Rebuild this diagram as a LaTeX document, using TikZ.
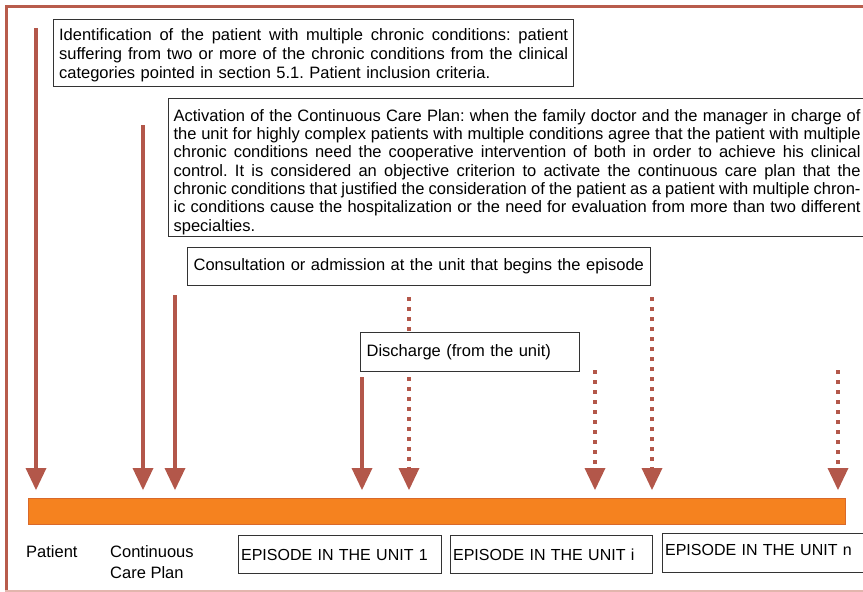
\documentclass[tikz,border=0pt]{standalone}
\usepackage{fontspec}
\setmainfont{Liberation Sans}
\usetikzlibrary{arrows.meta}
\frenchspacing

\definecolor{arrowred}{HTML}{B3574A}
\definecolor{framered}{HTML}{B85C4C}
\definecolor{framepink}{HTML}{E2B5AD}
\definecolor{barorange}{HTML}{F5821F}
\definecolor{baredge}{HTML}{D9692A}
\definecolor{boxgray}{HTML}{333333}

% one justified line of a fixed width
\newcommand\jline[2]{\leavevmode\hbox to #1{\spaceskip=0.278em plus 1em minus 0.12em\relax #2}}

\begin{document}
\begin{tikzpicture}[x=1pt, y=-1pt,
  font=\fontsize{16.5}{18.8}\selectfont,
  textbox/.style={draw=boxgray, line width=1.2pt, fill=white, anchor=north west,
                  inner ysep=0pt, align=left},
  solidarrow/.style={draw=arrowred, line width=4pt,
                     -{Triangle[width=21pt, length=22pt, line width=0pt]}},
  dotarrow/.style={solidarrow, dash pattern=on 4pt off 6pt},
  plainlabel/.style={inner sep=0pt, align=left}]

\useasboundingbox (0,0) rectangle (863,592);

% outer frame
\draw[framered, line width=3pt] (875,6.5) -- (6.5,6.5) -- (6.5,590);
\draw[framepink, line width=2pt] (5,590.8) -- (875,590.8);

% time line bar
\node[draw=baredge, line width=0.8pt, fill=barorange, minimum width=817pt,
      minimum height=26pt, inner sep=0pt] (bar) at (436.5,511.5) {};

% start and end points of the event arrows
\coordinate (a0) at (36,28);   \coordinate (a1) at (36,490);
\coordinate (b0) at (143,125); \coordinate (b1) at (143,490);
\coordinate (c0) at (175,295); \coordinate (c1) at (175,490);
\coordinate (d0) at (362,377); \coordinate (d1) at (362,490);
\coordinate (e0) at (409,297); \coordinate (e1) at (409,490);
\coordinate (f0) at (595,370); \coordinate (f1) at (595,490);
\coordinate (g0) at (652,297); \coordinate (g1) at (652,490);
\coordinate (h0) at (838,370); \coordinate (h1) at (838,490);

\draw[solidarrow] (a0) -- (a1);
\draw[solidarrow] (b0) -- (b1);
\draw[solidarrow] (c0) -- (c1);
\draw[solidarrow] (d0) -- (d1);
\draw[dotarrow] (e0) -- (e1);
\draw[dotarrow] (f0) -- (f1);
\draw[dotarrow] (g0) -- (g1);
\draw[dotarrow] (h0) -- (h1);

% explanatory boxes
\node[textbox, text width=509pt, inner xsep=5.5pt, minimum height=67pt,
      font=\fontsize{16.5}{19}\selectfont] (ident) at (53,19) {%
\jline{509pt}{\rule{0pt}{17.6pt}Identification of the patient with multiple chronic conditions: patient}\\
\jline{509pt}{suffering from two or more of the chronic conditions from the clinical}\\
categories pointed in section 5.1. Patient inclusion criteria.\rule[-4pt]{0pt}{4pt}};

\node[textbox, text width=687pt, inner xsep=5pt, minimum height=138.5pt,
      font=\fontsize{16.5}{18.3}\selectfont] (activ) at (168,97.5) {%
\jline{687pt}{\rule{0pt}{21.5pt}Activation of the Continuous Care Plan: when the family doctor and the manager in charge of}\\
\jline{687pt}{the unit for highly complex patients with multiple conditions agree that the patient with multiple}\\
\jline{687pt}{chronic conditions need the cooperative intervention of both in order to achieve his clinical}\\
\jline{687pt}{control. It is considered an objective criterion to activate the continuous care plan that the}\\
\jline{687pt}{chronic conditions that justified the consideration of the patient as a patient with multiple chron-}\\
\jline{687pt}{ic conditions cause the hospitalization or the need for evaluation from more than two different}\\
specialties.\rule[-4pt]{0pt}{4pt}};

\node[textbox, text width=451pt, inner xsep=6pt, minimum height=38pt] (consult) at (187,247)
  {Consultation or admission at the unit that begins the episode};

\node[textbox, text width=207pt, inner xsep=6pt, minimum height=39pt] (disch) at (360,332)
  {Discharge (from the unit)};

% episode boxes under the bar
\node[textbox, text width=198pt, inner xsep=2.5pt, minimum height=38pt,
      font=\fontsize{16}{18}\selectfont] (ep1) at (238,535)
  {EPISODE IN THE UNIT 1};
\node[textbox, text width=197pt, inner xsep=2.5pt, minimum height=38pt,
      font=\fontsize{16}{18}\selectfont] (epi) at (450,535)
  {EPISODE IN THE UNIT i};
\node[textbox, text width=205pt, inner xsep=2.5pt, minimum height=39pt,
      font=\fontsize{16}{18}\selectfont] (epn) at (662,533)
  {EPISODE IN THE UNIT n\rule[-6pt]{0pt}{6pt}};

% labels under the bar
\node[plainlabel, anchor=west] (patient) at (26,552) {Patient};
\node[plainlabel, anchor=north west, font=\fontsize{16.5}{21}\selectfont] (ccp) at (110,545)
  {Continuous\\Care Plan};

\end{tikzpicture}
\end{document}
